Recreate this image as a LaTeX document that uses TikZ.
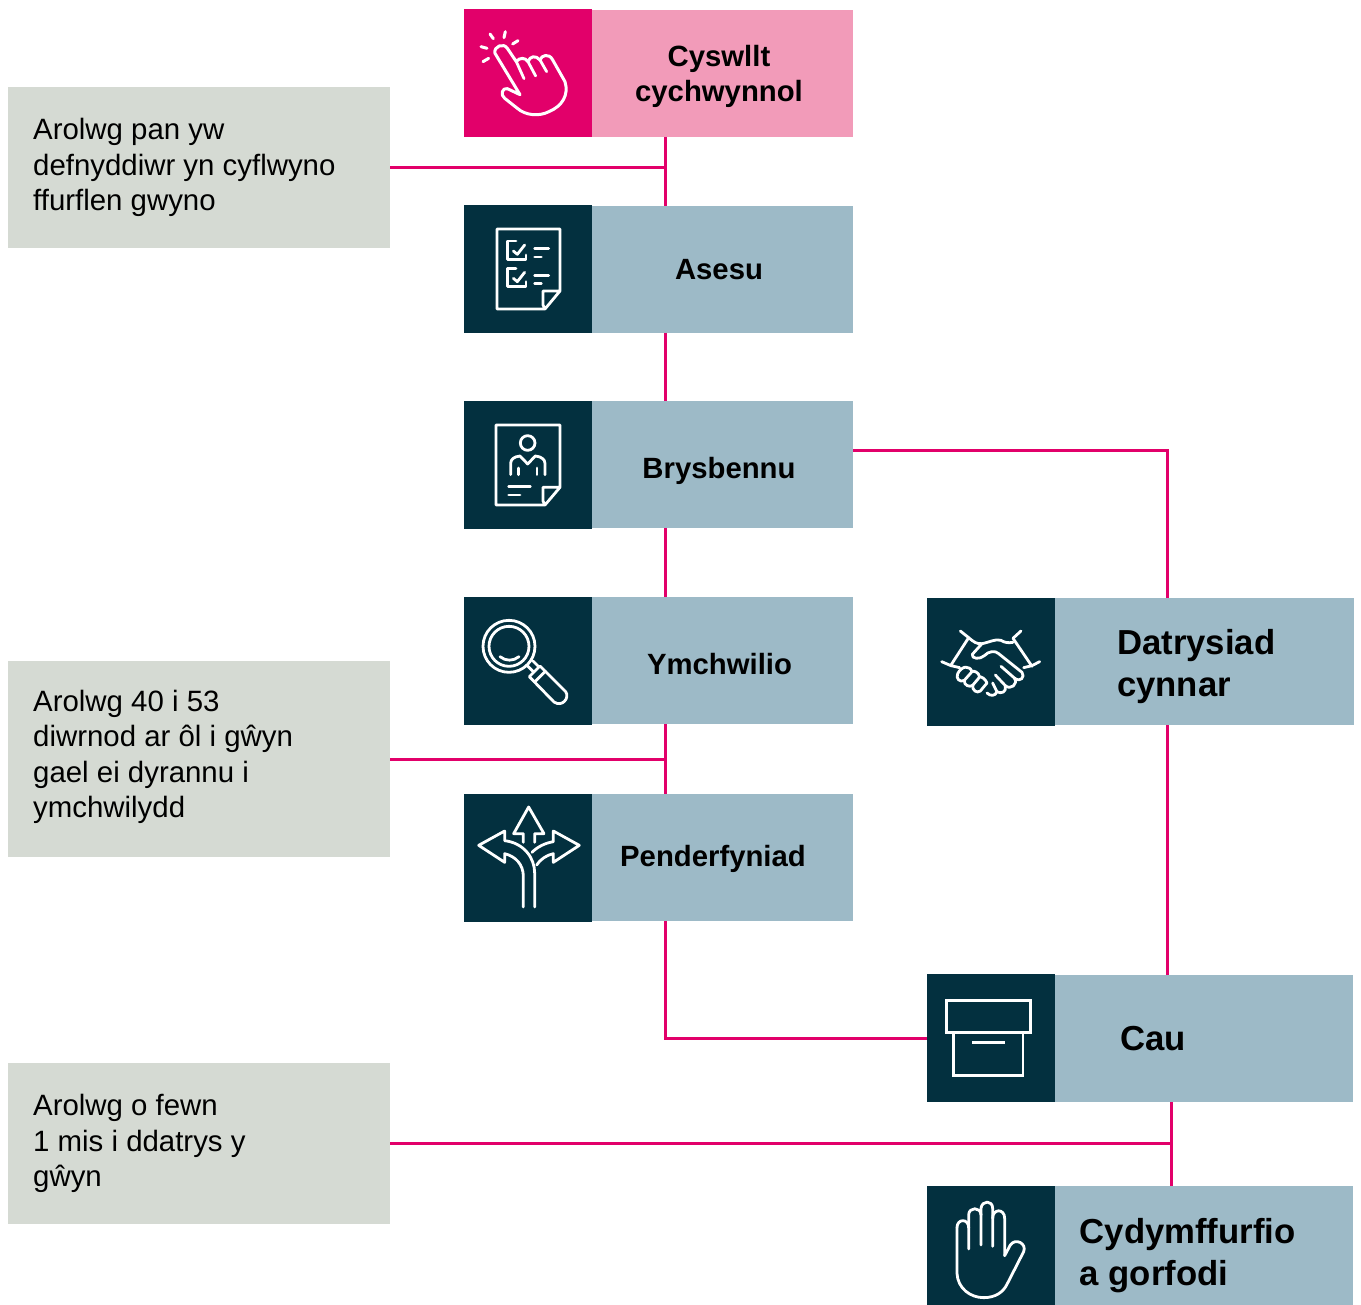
\documentclass[tikz,border=0pt]{standalone}
\usepackage{fontspec}
\setmainfont{Liberation Sans}
\definecolor{pinkA}{HTML}{E2006A}
\definecolor{pinkB}{HTML}{F29BB9}
\definecolor{navy}{HTML}{03303F}
\definecolor{steel}{HTML}{9DBAC7}
\definecolor{sage}{HTML}{D5DAD3}
\tikzset{
  box/.style={inner sep=0pt,outer sep=0pt,anchor=north west},
  iconbox/.style={box,fill=navy,minimum width=128pt,minimum height=128pt},
  labelbox/.style={box,fill=steel,minimum height=127pt},
  notebox/.style={box,fill=sage,minimum width=382pt},
  title/.style={font=\bfseries\fontsize{29.3}{35}\selectfont,align=center,inner sep=0pt,text=black},
  bigtitle/.style={font=\bfseries\fontsize{34.7}{42}\selectfont,align=left,inner sep=0pt,text=black},
  notetext/.style={font=\fontsize{29.4}{35.4}\selectfont,align=left,inner sep=0pt,anchor=west,text=black},
  link/.style={draw=pinkA,line width=3pt},
  ico/.style={draw=white,line width=2.8pt,line join=round,line cap=round,fill=none},
  zoomed/.style={x=0.3333pt,y=-0.3333pt},
}
\begin{document}
\begin{tikzpicture}[x=1pt,y=-1pt]
\useasboundingbox (0,0) rectangle (1361,1305);
% boxes
\node[iconbox,fill=pinkA] (i1) at (464,9) {};
\node[labelbox,fill=pinkB,minimum width=261pt] (l1) at (592,10) {};
\node[iconbox] (i2) at (464,205) {};
\node[labelbox,minimum width=261pt] (l2) at (592,206) {};
\node[iconbox] (i3) at (464,401) {};
\node[labelbox,minimum width=261pt] (l3) at (592,401) {};
\node[iconbox] (i4) at (464,597) {};
\node[labelbox,minimum width=261pt] (l4) at (592,597) {};
\node[iconbox] (i5) at (464,794) {};
\node[labelbox,minimum width=261pt] (l5) at (592,794) {};
\node[iconbox] (i6) at (927,598) {};
\node[labelbox,minimum width=299pt] (l6) at (1055,598) {};
\node[iconbox] (i7) at (927,974) {};
\node[labelbox,minimum width=298pt] (l7) at (1055,975) {};
\node[iconbox,minimum height=119pt] (i8) at (927,1186) {};
\node[labelbox,minimum width=298pt,minimum height=119pt] (l8) at (1055,1186) {};
\node[notebox,minimum height=161pt] (n1) at (8,87) {};
\node[notebox,minimum height=196pt] (n2) at (8,661) {};
\node[notebox,minimum height=161pt] (n3) at (8,1063) {};
% connector guides
\coordinate (spine) at (665,0);
\coordinate (rightA) at (1167,0);
\coordinate (rightB) at (1171,0);
\coordinate (triageOut) at (853,451);
\coordinate (closeIn) at (927,1038);
% connectors
\draw[link] (l1.south -| spine) -- (l2.north -| spine);
\draw[link] (n1.east) -- (n1.east -| spine);
\draw[link] (l2.south -| spine) -- (l3.north -| spine);
\draw[link] (l3.south -| spine) -- (l4.north -| spine);
\draw[link] (l4.south -| spine) -- (l5.north -| spine);
\draw[link] (n2.east) -- (n2.east -| spine);
\draw[link] (l5.south -| spine) |- (closeIn);
\draw[link] (triageOut) -| (l6.north -| rightA);
\draw[link] (l6.south -| rightA) -- (l7.north -| rightA);
\draw[link] (l7.south -| rightB) -- (l8.north -| rightB);
\draw[link] (n3.east) -- (n3.east -| rightB);
% titles
\node[title] (t1) at (719,76.5) {Cyswllt\\cychwynnol};
\node[title] (t2) at (719,270) {Asesu};
\node[title] (t3) at (719,471) {Brysbennu};
\node[title] (t4) at (719.5,664) {Ymchwilio};
\node[title] (t5) at (713,859) {Penderfyniad};
\node[bigtitle,anchor=west] (t6) at (1117,667) {Datrysiad\\cynnar};
\node[bigtitle,anchor=west] (t7) at (1120,1039) {Cau};
\node[bigtitle,anchor=west] (t8) at (1079.5,1256) {Cydymffurfio\\a gorfodi};
\node[notetext] (x1) at (33,167.5) {Arolwg pan yw\\defnyddiwr yn cyflwyno\\ffurflen gwyno};
\node[notetext] (x2) at (33,757) {Arolwg 40 i 53\\diwrnod ar ôl i gŵyn\\gael ei dyrannu i\\ymchwilydd};
\node[notetext] (x3) at (33,1143.5) {Arolwg o fewn\\1 mis i ddatrys y\\gŵyn};
% icon 1: pointing hand
\begin{scope}[shift={(464,0)},zoomed]
\draw[ico,line width=3pt] (78,102)--(88,116) (124,95)--(120,113) (162,122)--(146,132) (51,140)--(69,145) (57,185)--(74,175);
\draw[ico,line width=3pt] (168,284) -- (130,266) .. controls (115,262) and (108,285) .. (122,295)
 -- (160,325) .. controls (185,347) and (225,350) .. (255,335)
 .. controls (295,318) and (315,285) .. (303,245)
 -- (265,178) .. controls (255,160) and (232,165) .. (228,180)
 .. controls (215,165) and (198,168) .. (192,185)
 .. controls (185,172) and (165,172) .. (157,185)
 -- (130,145) .. controls (120,128) and (88,138) .. (93,160) -- (168,284);
\draw[ico] (157,185) -- (180,236) (192,185) -- (215,228) (228,180) -- (248,215);
\end{scope}
% icon 2: checklist
\begin{scope}[shift={(464,205)},zoomed]
\draw[ico] (243,312) -- (99,312) -- (99,72) -- (288,72) -- (288,258) -- (243,312) -- (237,300) -- (237,258) -- (288,258);
\draw[ico] (156,108) -- (130,108) -- (130,164) -- (186,164) -- (186,150);
\draw[ico] (156,190) -- (130,190) -- (130,244) -- (186,244) -- (186,230);
\draw[ico] (148,138) -- (160,148) -- (182,120);
\draw[ico] (148,220) -- (160,230) -- (182,202);
\draw[ico] (212,131) -- (254,131) (212,156) -- (232,156) (212,211) -- (254,211) (212,235) -- (232,235);
\end{scope}
% icon 3: profile sheet
\begin{scope}[shift={(464,400)},zoomed]
\draw[ico] (243,315) -- (96,315) -- (96,75) -- (288,75) -- (288,262) -- (243,315) -- (237,303) -- (237,262) -- (288,262);
\draw[ico] (191,129) circle (22);
\draw[ico] (140,224) -- (140,190) .. controls (140,178) and (150,170) .. (168,168) -- (191,192) -- (214,168)
 .. controls (232,170) and (243,178) .. (243,190) -- (243,224);
\draw[ico] (163,204) -- (163,224) (219,204) -- (219,224);
\draw[ico] (134,260) -- (199,260) (134,285) -- (168,285);
\end{scope}
% icon 4: magnifier
\begin{scope}[shift={(464,596)},zoomed]
\draw[ico] (135,151) circle (78);
\draw[ico] (135,151) circle (60);
\draw[ico] (108,182) .. controls (125,196) and (148,196) .. (165,182);
\draw[ico] (188,207) -- (207,226) (207,195) -- (222,210);
\draw[ico] (196,242) -- (228,210) -- (305,287) .. controls (318,305) and (295,335) .. (270,318) -- (196,242);
\draw[ico] (212,258) -- (244,226);
\end{scope}
% icon 5: arrows
\begin{scope}[shift={(464,793)},zoomed]
\draw[ico] (178,148) -- (178,122) -- (149,122) -- (194,42) -- (240,122) -- (212,122) -- (212,148);
\draw[ico] (178,342) -- (178,250) .. controls (178,215) and (155,190) .. (122,182) -- (122,208) -- (44,157) -- (122,114) -- (122,143)
 .. controls (180,150) and (212,195) .. (212,240) -- (212,342);
\draw[ico] (204,178) .. controls (222,160) and (245,150) .. (268,146) -- (268,114) -- (346,157) -- (268,208) -- (268,182)
 .. controls (248,186) and (228,200) .. (218,216);
\end{scope}
% icon 6: handshake
\begin{scope}[shift={(927,597)},zoomed]
\draw[ico] (100,102) -- (125,122) (125,122) -- (72,204) (44,194) -- (72,206) -- (98,212);
\draw[ico] (282,102) -- (258,124) -- (315,208) (338,194) -- (315,206) -- (290,212);
\draw[ico] (125,122) .. controls (140,135) and (150,142) .. (165,140) .. controls (190,135) and (205,125) .. (222,130)
 .. controls (235,138) and (245,138) .. (258,136);
\draw[ico] (165,140) -- (136,172) .. controls (132,186) and (160,188) .. (172,176) .. controls (185,162) and (205,160) .. (215,170)
 -- (285,226) .. controls (295,240) and (280,258) .. (262,243) -- (222,208);
\draw[ico] (262,243) .. controls (275,262) and (250,280) .. (235,266) -- (205,234);
\draw[ico] (235,266) .. controls (240,285) and (222,292) .. (210,284) -- (197,258);
\draw[ico] (210,284) .. controls (205,298) and (190,298) .. (180,288);
\draw[ico] (92,230) .. controls (85,245) and (100,258) .. (112,250) -- (135,224) .. controls (128,205) and (105,205) .. (92,230);
\draw[ico] (112,250) .. controls (110,265) and (128,272) .. (137,265) -- (158,240) .. controls (155,225) and (140,220) .. (135,224);
\draw[ico] (137,265) .. controls (135,280) and (150,290) .. (160,282) -- (180,258) .. controls (175,245) and (162,238) .. (158,240);
\end{scope}
% icon 7: box
\begin{scope}[shift={(927,973)},zoomed]
\draw[ico,line cap=butt,line join=miter,line width=3pt] (58,82) rectangle (312,180);
\draw[ico,line cap=butt,line join=miter] (80,180) -- (80,308) -- (288,308) -- (288,180);
\draw[ico,line cap=butt] (136,209) -- (233,209);
\end{scope}
% icon 8: hand
\begin{scope}[shift={(927,1185)},zoomed]
\draw[ico] (90,128) .. controls (90,100) and (125,100) .. (125,128) -- (125,192);
\draw[ico] (125,128) -- (125,90) .. controls (125,65) and (162,65) .. (162,90) -- (162,180);
\draw[ico] (162,90) -- (162,70) .. controls (165,45) and (197,45) .. (197,70) -- (197,184);
\draw[ico] (197,100) .. controls (197,70) and (233,70) .. (233,100) -- (233,212);
\draw[ico] (90,128) -- (90,265) .. controls (92,310) and (130,338) .. (170,338) .. controls (205,338) and (228,322) .. (240,298)
 -- (290,200) .. controls (300,175) and (265,158) .. (250,180) -- (233,212);
\end{scope}
\end{tikzpicture}
\end{document}
